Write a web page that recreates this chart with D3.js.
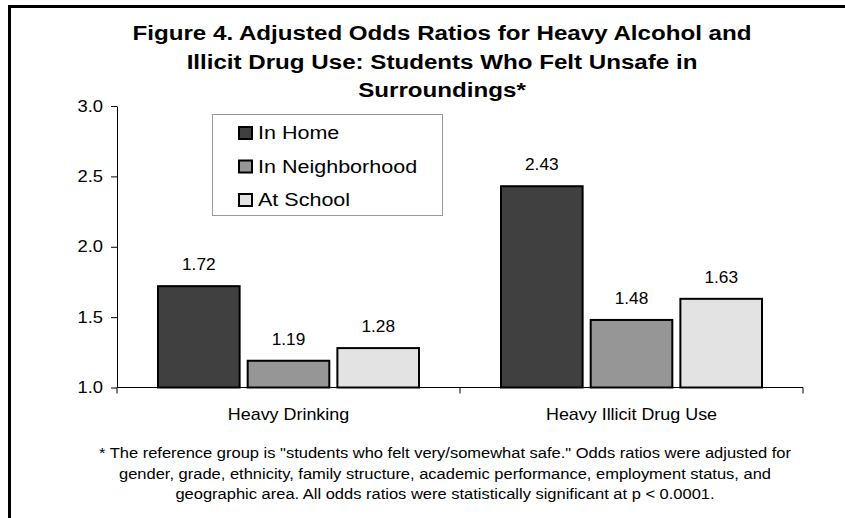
<!DOCTYPE html>
<html>
<head>
<meta charset="utf-8">
<script src="https://cdn.jsdelivr.net/npm/d3@7"></script>
<style>
  body { margin: 0; background: #fff; }
  svg { display: block; font-family: Arial, "Liberation Sans", sans-serif; }
</style>
</head>
<body>
<script>
// chart data
const categories = ["Heavy Drinking", "Heavy Illicit Drug Use"];
const series = ["In Home", "In Neighborhood", "At School"];
const inHome = [1.72, 2.43];
const inNeighborhood = [1.19, 1.48];
const atSchool = [1.28, 1.63];
const yTicks = [1.0, 1.5, 2.0, 2.5, 3.0];
const titleLines = [
  "Figure 4. Adjusted Odds Ratios for Heavy Alcohol and",
  "Illicit Drug Use: Students Who Felt Unsafe in",
  "Surroundings*"
];
const noteLines = [
  "* The reference group is \"students who felt very/somewhat safe.\" Odds ratios were adjusted for",
  "gender, grade, ethnicity, family structure, academic performance, employment status, and",
  "geographic area. All odds ratios were statistically significant at p < 0.0001."
];

const values = [inHome, inNeighborhood, atSchool];
const fills = ["#404040", "#969696", "#e3e3e3"];

const W = 845, H = 518;
const svg = d3.select("body").append("svg").attr("width", W).attr("height", H);

// the original text is a bit wider than plain Arial, stretch it sideways
let place = (x, y, sx) => `translate(${x},${y}) scale(${sx},1)`;

// outer frame (right and bottom run off the picture)
svg.append("rect")
  .attr("x", 9.5).attr("y", 6.5)
  .attr("width", 900).attr("height", 600)
  .attr("fill", "none").attr("stroke", "#000").attr("stroke-width", 3);

// title
svg.append("g").selectAll("text").data(titleLines).enter().append("text")
  .attr("transform", (d, i) => place(442, 40 + i * 28.5, 1.15))
  .attr("text-anchor", "middle")
  .style("font-weight", "bold").style("font-size", "21px")
  .text(d => d);

const plotL = 117, plotR = 803, plotT = 106, plotB = 387.5;

let x0 = d3.scaleBand().domain(categories).range([plotL, plotR]);
let x1 = d3.scaleBand().domain(series).range([41, x0.bandwidth() - 41]).paddingInner(0.09);
let y = d3.scaleLinear().domain([1, 3]).range([plotB, plotT]);

// y axis
let yAxis = d3.axisLeft(y).tickValues(yTicks).tickFormat(d3.format(".1f"))
  .tickSize(6).tickSizeOuter(0).tickPadding(8);
let gy = svg.append("g").attr("transform", `translate(${plotL},0)`).call(yAxis);
gy.select(".domain").attr("stroke", "#000");
gy.selectAll("text").attr("x", null).attr("transform", place(-14, 0, 1.15))
  .style("font-size", "16px").attr("fill", "#000").attr("font-family", null);

// bars
let groups = svg.append("g").selectAll("g").data(categories).enter().append("g")
  .attr("transform", d => `translate(${x0(d)},0)`);

groups.each(function(cat, ci) {
  let g = d3.select(this);
  series.forEach((s, si) => {
    let v = values[si][ci];
    g.append("rect")
      .attr("x", x1(s)).attr("y", y(v))
      .attr("width", x1.bandwidth()).attr("height", y(1) - y(v))
      .attr("fill", fills[si]).attr("stroke", "#000").attr("stroke-width", 2);
    g.append("text")
      .attr("transform", place(x1(s) + x1.bandwidth() / 2, y(v) - 16, 1.08))
      .attr("text-anchor", "middle").style("font-size", "16px")
      .text(v.toFixed(2));
  });
});

// x axis
let gx = svg.append("g");
gx.append("line").attr("x1", plotL).attr("x2", plotR).attr("y1", plotB).attr("y2", plotB)
  .attr("stroke", "#000");
let edges = categories.map(c => x0(c)).concat([plotR]);
gx.selectAll(".tk").data(edges).enter().append("line")
  .attr("x1", d => d).attr("x2", d => d).attr("y1", plotB).attr("y2", plotB + 6)
  .attr("stroke", "#000");
gx.selectAll("text").data(categories).enter().append("text")
  .attr("transform", d => place(x0(d) + x0.bandwidth() / 2, 420, 1.12))
  .attr("text-anchor", "middle").style("font-size", "16px")
  .text(d => d);

// legend
let leg = svg.append("g");
leg.append("rect").attr("x", 212.5).attr("y", 114.5).attr("width", 230).attr("height", 101)
  .attr("fill", "#fff").attr("stroke", "#999");
series.forEach((s, i) => {
  leg.append("rect").attr("x", 239).attr("y", 127 + i * 33.5).attr("width", 13).attr("height", 12)
    .attr("fill", fills[i]).attr("stroke", "#000").attr("stroke-width", 2);
  leg.append("text").attr("transform", place(258, 139 + i * 33.5, 1.23))
    .style("font-size", "17.5px").text(s);
});

// footnote
svg.append("g").selectAll("text").data(noteLines).enter().append("text")
  .attr("transform", (d, i) => place(445, 458 + i * 20.5, 1.1))
  .attr("text-anchor", "middle").style("font-size", "15px")
  .text(d => d);
</script>
</body>
</html>
